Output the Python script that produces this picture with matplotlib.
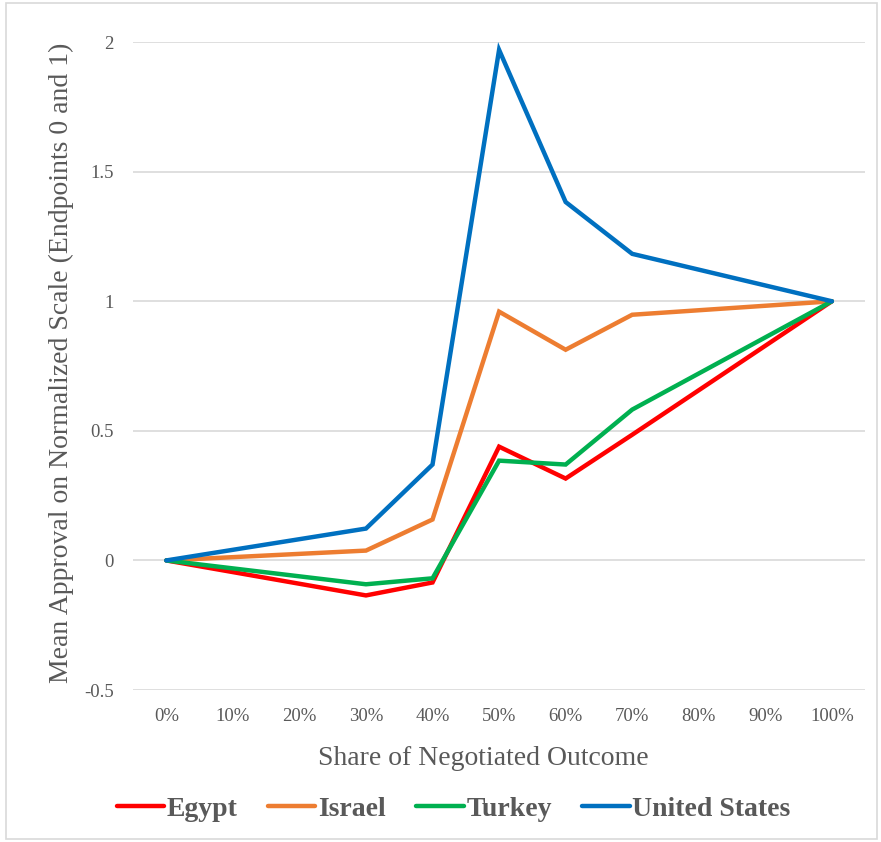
import numpy as np
import matplotlib.pyplot as plt
from matplotlib.patches import Rectangle

plt.rcParams['font.family'] = ['Liberation Serif', 'DejaVu Serif']

categories = ['0%', '10%', '20%', '30%', '40%', '50%', '60%', '70%', '80%', '90%', '100%']
measured = [0, 3, 4, 5, 6, 7, 10]  # category positions that have observations

egypt = [0, -0.135, -0.085, 0.439, 0.316, 0.485, 1]
israel = [0, 0.038, 0.158, 0.960, 0.813, 0.948, 1]
turkey = [0, -0.092, -0.069, 0.385, 0.370, 0.582, 1]
united_states = [0, 0.123, 0.370, 1.970, 1.383, 1.183, 1]

series = [('Egypt', egypt, '#FF0000'),
          ('Israel', israel, '#ED7D31'),
          ('Turkey', turkey, '#00B050'),
          ('United States', united_states, '#0070C0')]

text_col = '#595959'
grid_col = '#D9D9D9'

fig = plt.figure(figsize=(8.81, 8.42), dpi=100)
ax = fig.add_axes([0.151, 0.1805, 0.831, 0.7695])

for name, vals, col in series:
    ax.plot(measured, vals, color=col, lw=3.2, label=name,
            solid_joinstyle='miter', solid_capstyle='round')

ax.set_xlim(-0.5, 10.5)
ax.set_ylim(-0.5, 2)
ax.set_yticks([-0.5, 0, 0.5, 1, 1.5, 2])
ax.set_yticklabels(['-0.5', '0', '0.5', '1', '1.5', '2'])
ax.set_xticks(range(len(categories)))
ax.set_xticklabels(categories)
ax.tick_params(length=0, colors=text_col, labelsize=13.5)
ax.tick_params(axis='x', pad=13)
ax.tick_params(axis='y', pad=14)
ax.grid(axis='y', color=grid_col, lw=1.2)
ax.set_axisbelow(True)
for s in ax.spines.values():
    s.set_visible(False)

ax.set_xlabel('Share of Negotiated Outcome', fontsize=20, color=text_col)
ax.set_ylabel('Mean Approval on Normalized Scale (Endpoints 0 and 1)', fontsize=20,
              color=text_col)
ax.xaxis.set_label_coords(0.479, -0.086)
ax.yaxis.set_label_coords(-0.08, 0.505)

leg = fig.legend(loc='center', bbox_to_anchor=(0.515, 0.039), ncol=4, frameon=False,
                 prop={'weight': 'bold', 'size': 20}, handlelength=1.7,
                 handletextpad=0.1, columnspacing=1.1)
for t in leg.get_texts():
    t.set_color(text_col)

# chart border
fig.patches.append(Rectangle((0.007, 0.004), 0.988, 0.992, transform=fig.transFigure,
                             fill=False, edgecolor=grid_col, lw=1.2))

fig.savefig('out.png', dpi=100)
